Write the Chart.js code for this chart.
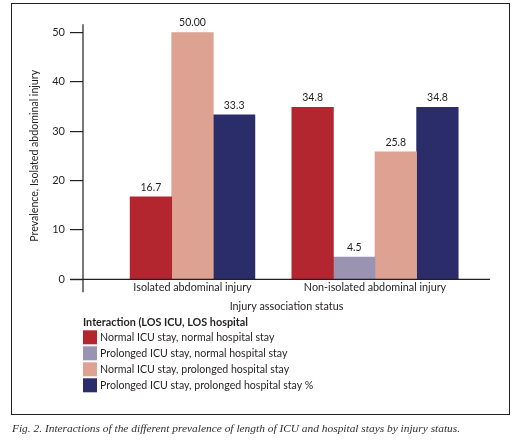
<!DOCTYPE html>
<html>
<head>
<meta charset="utf-8">
<script src="https://cdn.jsdelivr.net/npm/chart.js@4/dist/chart.umd.min.js"></script>
<style>
html, body { margin: 0; padding: 0; background: #fff; }
body { width: 515px; height: 443px; position: relative; overflow: hidden; }
#chartCanvas { position: absolute; left: 0; top: 0; }
#frame { position: absolute; left: 10.5px; top: 2.5px; width: 499px; height: 412px; border: 1.4px solid #231f20; box-sizing: border-box; pointer-events: none; }
#caption { position: absolute; left: 12px; top: 421.5px; font: italic 11.4px "Liberation Serif", serif; color: #2e2e2e; white-space: nowrap; }
</style>
</head>
<body>
<canvas id="chartCanvas" width="515" height="443"></canvas>
<div id="frame"></div>
<div id="caption">Fig. 2. Interactions of the different prevalence of length of ICU and hospital stays by injury status.</div>
<script>
// categories and series
var categories = ['Isolated abdominal injury', 'Non-isolated abdominal injury'];
var seriesNames = [
	'Normal ICU stay, normal hospital stay',
	'Prolonged ICU stay, normal hospital stay',
	'Normal ICU stay, prolonged hospital stay',
	'Prolonged ICU stay, prolonged hospital stay %'
];
var normalNormal = [16.7, 34.8];
var prolongedNormal = [null, 4.5];
var normalProlonged = [50.0, 25.8];
var prolongedProlonged = [33.3, 34.8];

// printed value labels, as in the figure
var normalNormalText = ['16.7', '34.8'];
var prolongedNormalText = ['', '4.5'];
var normalProlongedText = ['50.00', '25.8'];
var prolongedProlongedText = ['33.3', '34.8'];

var yTicks = [0, 10, 20, 30, 40, 50];

var legendTitle = 'Interaction (LOS ICU, LOS hospital';
var xTitle = 'Injury association status';
var yTitle = 'Prevalence, Isolated abdominal injury';

var colors = ['#b3262f', '#9a93b2', '#dda292', '#2a2d6a'];
var ink = '#231f20';
var fontFamily = 'Lato, "Noto Sans", sans-serif';

function toPoints(values) {
	return values.map(function(v, i) { return {x: i, y: v}; });
}

var seriesValues = [normalNormal, prolongedNormal, normalProlonged, prolongedProlonged];
var seriesText = [normalNormalText, prolongedNormalText, normalProlongedText, prolongedProlongedText];

var datasets = seriesValues.map(function(vals, k) {
	return {
		label: seriesNames[k],
		data: toPoints(vals),
		backgroundColor: colors[k],
		valueText: seriesText[k]
	};
});

// value labels over the bars
var barValueLabels = {
	id: 'barValueLabels',
	afterDatasetsDraw: function(chart) {
		var ctx = chart.ctx;
		ctx.save();
		ctx.font = '10.5px ' + fontFamily;
		ctx.fillStyle = ink;
		ctx.textAlign = 'center';
		ctx.textBaseline = 'alphabetic';
		chart.data.datasets.forEach(function(ds, i) {
			var meta = chart.getDatasetMeta(i);
			meta.data.forEach(function(bar, j) {
				if (ds.data[j].y == null || isNaN(bar.y)) return;
				ctx.fillText(ds.valueText[j], bar.x, bar.y - 6);
			});
		});
		ctx.restore();
	}
};

// axis lines that run past the plot area, plus the legend block
var axisAndLegend = {
	id: 'axisAndLegend',
	afterDraw: function(chart) {
		var ctx = chart.ctx;
		var area = chart.chartArea;
		var y0 = chart.scales.y.getPixelForValue(0);
		ctx.save();
		ctx.strokeStyle = ink;
		ctx.lineWidth = 1.2;
		ctx.beginPath();
		ctx.moveTo(area.left, area.top - 8);
		ctx.lineTo(area.left, y0 + 13);
		ctx.moveTo(area.left - 13, y0);
		ctx.lineTo(area.right, y0);
		ctx.stroke();

		// legend
		var lx = area.left;
		var top = chart.scales.x.bottom;
		ctx.fillStyle = ink;
		ctx.textAlign = 'left';
		ctx.textBaseline = 'middle';
		ctx.font = 'bold 10.8px ' + fontFamily;
		ctx.fillText(legendTitle, lx, top + 8);
		ctx.font = '10.6px ' + fontFamily;
		chart.data.datasets.forEach(function(ds, i) {
			var cy = top + 23 + i * 16;
			ctx.fillStyle = ds.backgroundColor;
			ctx.fillRect(lx, cy - 7, 14, 14);
			ctx.fillStyle = ink;
			ctx.fillText(ds.label, lx + 17, cy);
		});
		ctx.restore();
	}
};

var chart = new Chart(document.getElementById('chartCanvas').getContext('2d'), {
	type: 'bar',
	data: { datasets: datasets },
	options: {
		responsive: false,
		animation: false,
		layout: { padding: { left: 0, top: 32.3, right: 25, bottom: 128.7 } },
		datasets: { bar: { barThickness: 41.6, skipNull: true, grouped: true } },
		plugins: {
			legend: { display: false },
			tooltip: { enabled: false }
		},
		scales: {
			x: {
				type: 'linear',
				offset: false,
				min: -0.6,
				max: 1.63,
				afterBuildTicks: function(s) {
					s.ticks = categories.map(function(c, i) { return {value: i}; });
				},
				ticks: {
					autoSkip: false,
					maxRotation: 0,
					padding: 2,
					color: ink,
					font: { family: fontFamily, size: 10.8 },
					callback: function(v) { return categories[v]; }
				},
				grid: { display: false, drawTicks: false, offset: false },
				border: { display: false },
				title: {
					display: true,
					text: xTitle,
					color: ink,
					font: { family: fontFamily, size: 10.8 },
					padding: { top: 2, bottom: 1 }
				},
				afterFit: function(s) {
					s.height = 35;
					s.paddingLeft = 0;
					s.paddingRight = 0;
				}
			},
			y: {
				min: 0,
				max: 50,
				afterBuildTicks: function(s) {
					s.ticks = yTicks.map(function(v) { return {value: v}; });
				},
				ticks: {
					padding: 5,
					color: ink,
					font: { family: fontFamily, size: 11 }
				},
				grid: { drawOnChartArea: false, tickLength: 13, color: ink, lineWidth: 1.2 },
				border: { display: false },
				title: {
					display: true,
					text: yTitle,
					color: ink,
					font: { family: fontFamily, size: 10.6 },
					padding: { top: 28.7 }
				},
				afterFit: function(s) { s.width = 83; }
			}
		}
	},
	plugins: [barValueLabels, axisAndLegend]
});
</script>
</body>
</html>
